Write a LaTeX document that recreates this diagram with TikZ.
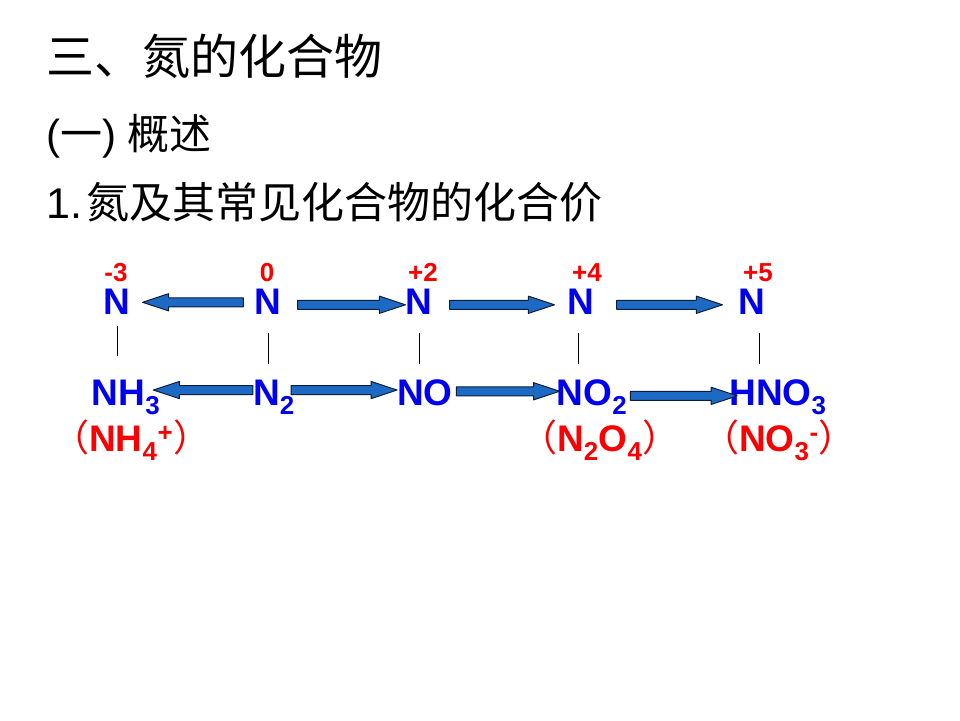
\documentclass[tikz,border=0pt]{standalone}
\usepackage{fontspec}
\setmainfont{Liberation Sans}
\newfontfamily\cjk{Noto Sans CJK SC}
\usepackage{tikz}
\usetikzlibrary{calc}
\definecolor{chemblue}{RGB}{0, 0, 240}
\definecolor{valred}{RGB}{250, 0, 0}
\definecolor{arrowfill}{RGB}{28, 106, 196}
\definecolor{arrowline}{RGB}{14, 28, 60}

% khối mũi tên nằm ngang: thân dày, đầu tam giác
\newcommand{\blockarrow}[2]{%
    \draw[fatarrow] let \p1=#1, \p2=#2, \p3=($(\x2,\y1)!26pt!(\x1,\y1)$) in
        (\x1,\y1-4.5pt) -- (\x3,\y1-4.5pt) -- (\x3,\y1-8.6pt)
        -- (\x2,\y1) -- (\x3,\y1+8.6pt) -- (\x3,\y1+4.5pt)
        -- (\x1,\y1+4.5pt) -- cycle;}

\begin{document}
\begin{tikzpicture}[x=1pt, y=-1pt, line join=round,
    heading/.style={anchor=base west, inner sep=0pt, font=\fontsize{42}{50}\selectfont},
    chem/.style={anchor=base, inner sep=0pt, text=chemblue, font=\fontsize{37}{44}\selectfont\bfseries},
    val/.style={anchor=base, inner sep=0pt, text=valred, font=\fontsize{26}{30}\selectfont\bfseries},
    ion/.style={anchor=base west, inner sep=0pt, text=valred, font=\fontsize{37}{44}\selectfont\bfseries},
    stem/.style={draw=black, line width=0.8pt, shorten <=19pt, shorten >=15pt},
    fatarrow/.style={fill=arrowfill, draw=arrowline, line width=1pt}]
    \useasboundingbox[fill=white] (0,0) rectangle (960,720);

    % Tiêu đề
    \node[heading, font=\fontsize{48}{56}\selectfont] (title) at (46,74) {\cjk 三、氮的化合物};
    \node[heading] (sub) at (46,149) {({\cjk 一}) {\cjk 概述}};
    \node[heading, font=\fontsize{43}{50}\selectfont] (item) at (46,218) {1.\hspace{4pt}{\cjk 氮及其常见化合物的化合价}};

    % Hàng 1: nguyên tố N
    \node[chem] (nm3) at (117,314) {N};
    \node[chem] (n0) at (268,314) {N};
    \node[chem] (np2) at (419,314) {N};
    \node[chem] (np4) at (581,314) {N};
    \node[chem] (np5) at (752,314) {N};

    % Số oxi hóa
    \node[val] (vm3) at (116,281) {-3};
    \node[val] (v0) at (267,281) {0};
    \node[val] (vp2) at (423,281) {+2};
    \node[val] (vp4) at (587,281) {+4};
    \node[val] (vp5) at (758,281) {+5};

    % Hàng 2: hợp chất
    \node[chem] (nh3) at (126,405) {NH\textsubscript{3}};
    \node[chem] (n2) at (274,405) {N\textsubscript{2}};
    \node[chem] (no) at (425,405) {NO};
    \node[chem] (no2) at (592,405) {NO\textsubscript{2}};
    \node[chem] (hno3) at (778,405) {HNO\textsubscript{3}};

    % Hàng 3: dạng khác
    \node[ion] (nh4) at (52,451) {{\mdseries\cjk （}NH\textsubscript{4}\textsuperscript{+}{\mdseries\cjk ）}};
    \node[ion] (n2o4) at (520,451) {{\mdseries\cjk （}N\textsubscript{2}O\textsubscript{4}{\mdseries\cjk ）}};
    \node[ion] (no3) at (702,451) {{\mdseries\cjk （}NO\textsubscript{3}\textsuperscript{-}{\mdseries\cjk ）}};

    % Đoạn nối dọc
    \draw[stem, shorten <=12pt, shorten >=23pt] (nm3.south) -- (nm3.south |- nh3.north);
    \draw[stem] (n0.south) -- (n0.south |- n2.north);
    \draw[stem] (np2.south) -- (np2.south |- no.north);
    \draw[stem] ([xshift=-3pt]np4.south) -- ([xshift=-3pt]np4.south |- no2.north);
    \draw[stem] ([xshift=7pt]np5.south) -- ([xshift=7pt]np5.south |- hno3.north);

    % Mũi tên hàng 1
    \blockarrow{([xshift=-11pt,yshift=-1pt]n0.west)}{([xshift=12pt]nm3.east)}
    \blockarrow{([xshift=16pt,yshift=-3.5pt]n0.east)}{(np2.west)}
    \blockarrow{([xshift=17pt,yshift=-3.5pt]np2.east)}{([xshift=-13pt]np4.west)}
    \blockarrow{([xshift=22pt,yshift=-3.5pt]np4.east)}{([xshift=-16pt]np5.west)}

    % Mũi tên hàng 2
    \blockarrow{([yshift=7pt]n2.west)}{([xshift=-7pt]nh3.east)}
    \blockarrow{([xshift=-4pt,yshift=7pt]n2.east)}{(no.west)}
    \blockarrow{([xshift=3.5pt,yshift=1pt]no.east)}{([xshift=3pt]no2.west)}
    \blockarrow{([xshift=3pt,yshift=1pt]no2.east)}{([xshift=8pt]hno3.west)}
\end{tikzpicture}
\end{document}
